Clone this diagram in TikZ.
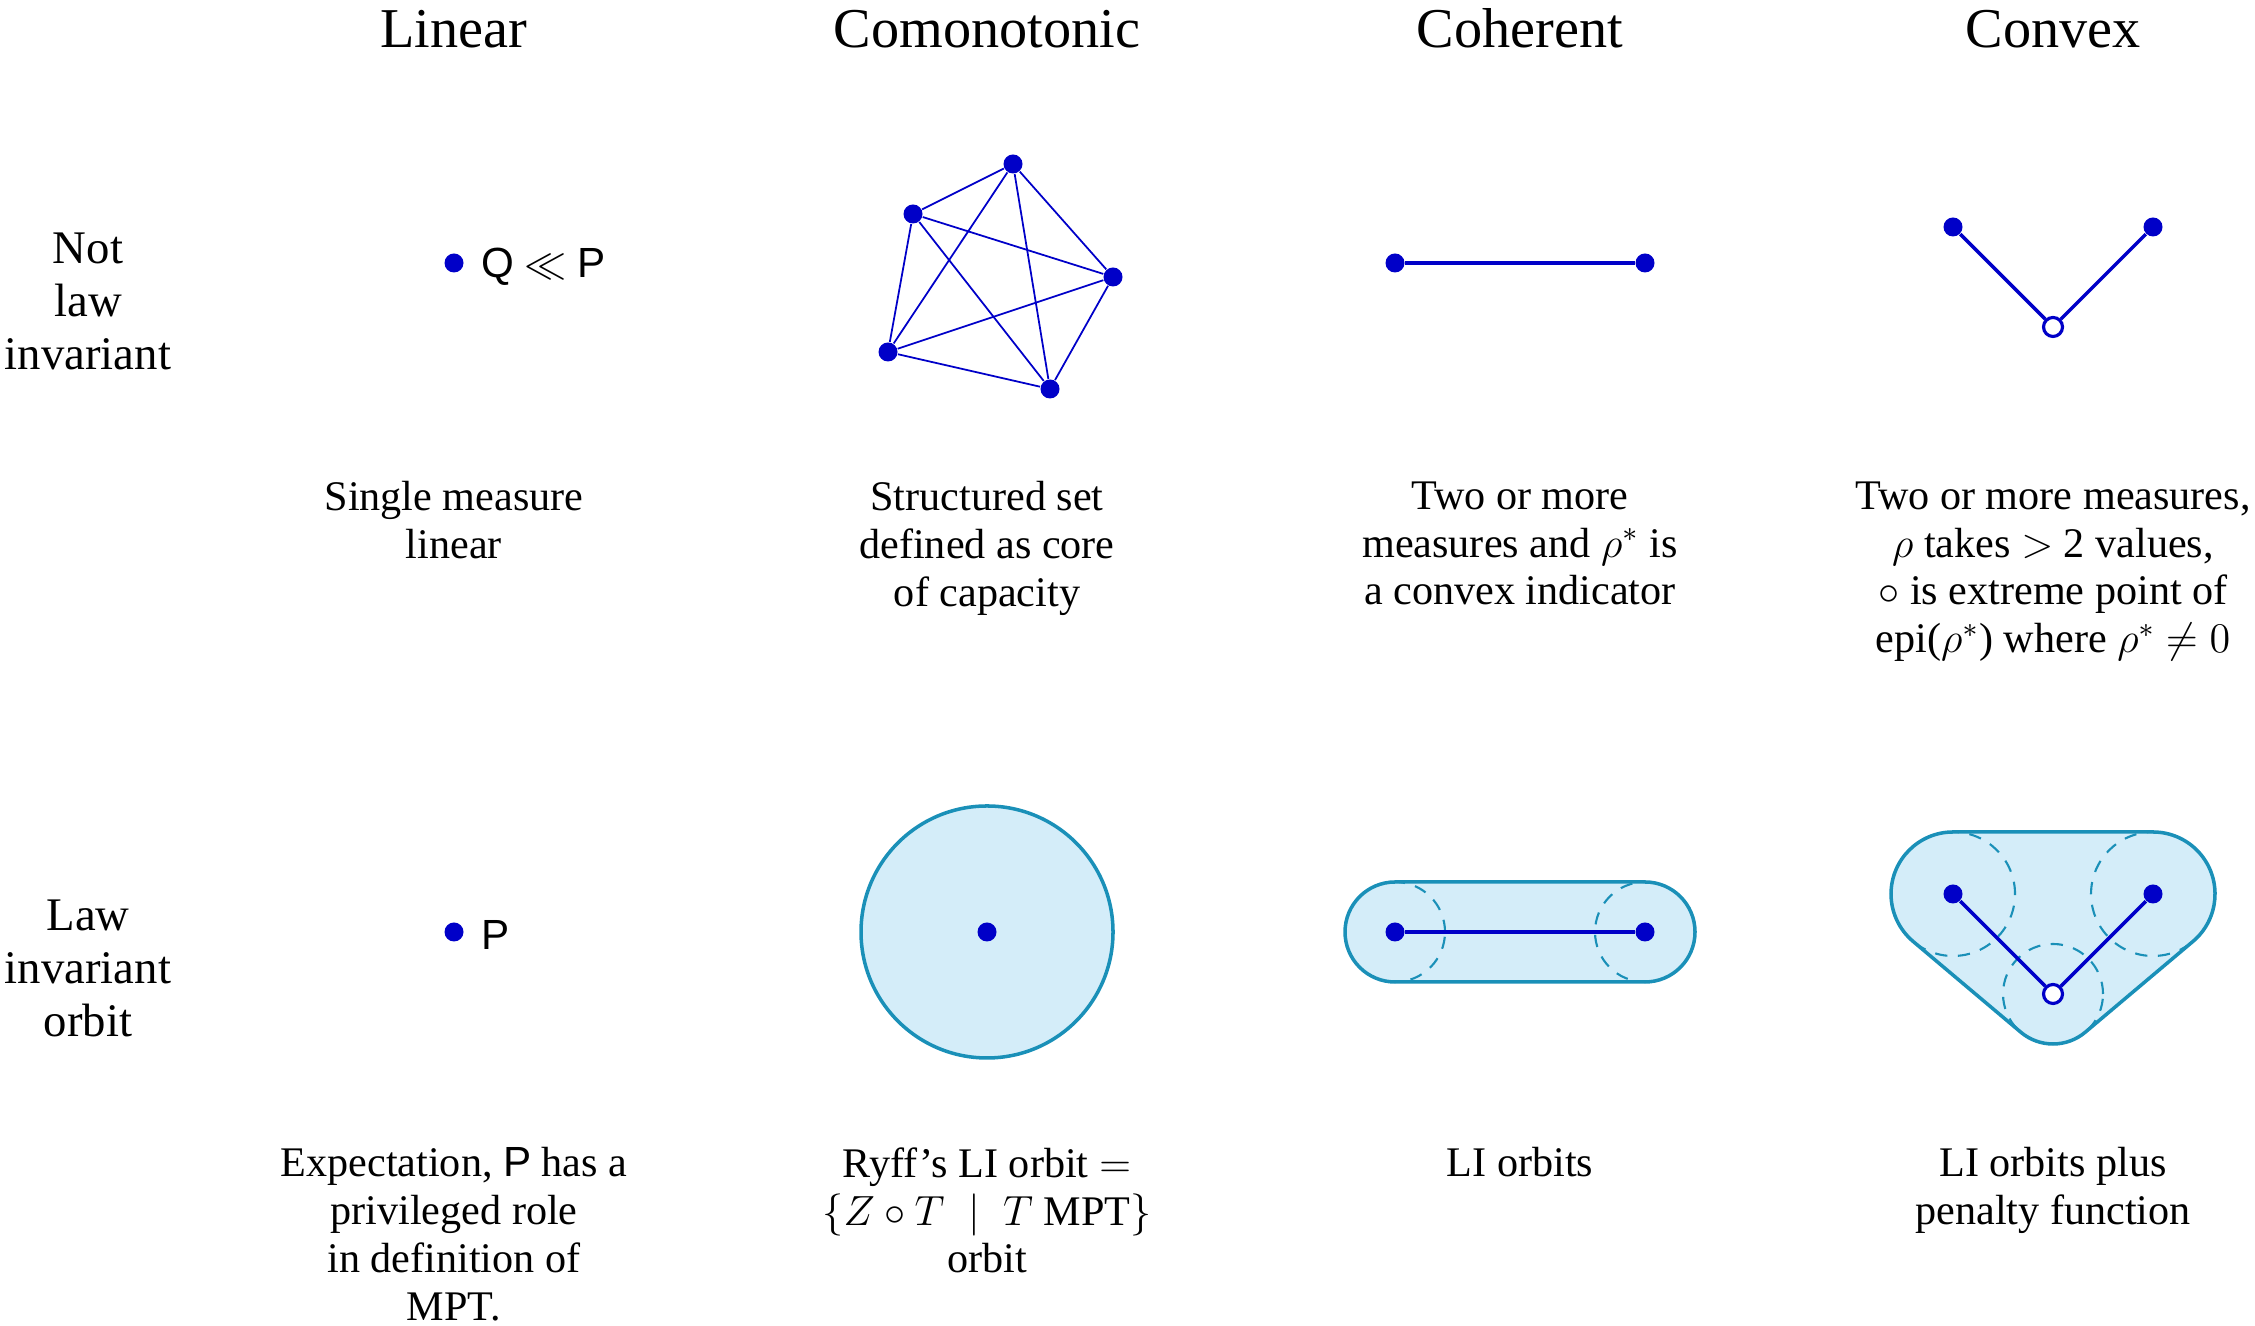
\documentclass[tikz,border=0pt]{standalone}
\usepackage{fontspec}
\setmainfont{Liberation Serif}
\setsansfont{Liberation Sans}
\usetikzlibrary{calc,positioning}
\definecolor{ptblue}{HTML}{0000C8}
\definecolor{orbitfill}{HTML}{D4EDF9}
\definecolor{orbitline}{HTML}{1A90B8}

\begin{document}
\begin{tikzpicture}[
    measure/.style={circle, fill=ptblue, inner sep=0pt, minimum size=0.19cm},
    extpt/.style={circle, draw=ptblue, fill=white, line width=0.9pt, inner sep=0pt, minimum size=0.19cm},
    link/.style={draw=ptblue, line width=#1},
    link/.default=1pt,
    orbit/.style={draw=orbitline, fill=orbitfill, line width=1pt},
    ball/.style={draw=orbitline, dash pattern=on 3.5pt off 3pt, line width=0.6pt},
    coltitle/.style={anchor=base, font=\fontsize{16}{19}\selectfont},
    rowlab/.style={align=center, font=\fontsize{13.3}{15}\selectfont},
    desc/.style={anchor=north, align=center, inner sep=0pt, font=\fontsize{12}{13.6}\selectfont},
    every node/.style={font=\fontsize{12}{14}\selectfont}
]
    \useasboundingbox (0,0) rectangle (22.55,13.26);

    % Column titles
    \node[coltitle] (tLin) at (4.54, 12.785) {Linear};
    \node[coltitle] (tCom) at (9.87, 12.785) {Comonotonic};
    \node[coltitle] (tCoh) at (15.20, 12.785) {Coherent};
    \node[coltitle] (tCvx) at (20.53, 12.785) {Convex};

    % Row labels
    \node[rowlab] (rNot) at (0.88, 10.245) {Not\\law\\invariant};
    \node[rowlab] (rLaw) at (0.88, 3.575) {Law\\invariant\\orbit};

    % Row 1: linear
    \node[measure] (lin1) at (4.54, 10.63) {};
    \node[right=0.05cm of lin1, yshift=-0.04cm] (linQ) {\textsf{Q} $\ll$ \textsf{P}};

    % Row 1: comonotonic, core of capacity
    \node[measure] (com1) at (10.13, 11.62) {};
    \node[measure] (com2) at (9.13, 11.12) {};
    \node[measure] (com3) at (8.88, 9.74) {};
    \node[measure] (com4) at (10.50, 9.37) {};
    \node[measure] (com5) at (11.13, 10.49) {};
    \foreach \i in {1,...,4} {
        \pgfmathtruncatemacro{\k}{\i+1}
        \foreach \j in {\k,...,5}
            \draw[link=0.5pt] (com\i) -- (com\j);
    }

    % Row 1: coherent
    \node[measure] (coh1L) at (13.95, 10.63) {};
    \node[measure] (coh1R) at (16.45, 10.63) {};
    \draw[link] (coh1L) -- (coh1R);

    % Row 1: convex
    \node[measure] (cvx1L) at (19.53, 10.99) {};
    \node[measure] (cvx1R) at (21.53, 10.99) {};
    \node[extpt] (cvx1B) at (20.53, 9.99) {};
    \draw[link] (cvx1L) -- (cvx1B) -- (cvx1R);

    % Row 1 descriptions
    \node[desc] (linT1) at (4.54, 8.45) {Single measure\\linear};
    \node[desc] (comT1) at (9.87, 8.45) {Structured set\\defined as core\\of capacity};
    \node[desc] (cohT1) at (15.20, 8.45) {Two or more\\measures and $\rho^*$ is\\a convex indicator};
    \node[desc] (cvxT1) at (20.53, 8.45) {Two or more measures,\\$\rho$ takes $>$~2 values,\\$\circ$ is extreme point of\\epi($\rho^*$) where $\rho^*$ $\neq 0$};

    % Row 2: linear
    \node[measure] (lin2) at (4.54, 3.94) {};
    \node[right=0.05cm of lin2, yshift=-0.03cm] (linP) {\textsf{P}};

    % Row 2: comonotonic orbit
    \node[circle, orbit, inner sep=0pt, minimum size=2.52cm] (ryff) at (9.87, 3.94) {};
    \node[measure] (com2C) at (9.87, 3.94) {};

    % Row 2: coherent, LI orbits
    \coordinate (coh2Lc) at (13.95, 3.94);
    \coordinate (coh2Rc) at (16.45, 3.94);
    \path[orbit] (coh2Lc) ++(0,0.5) arc[start angle=90, end angle=270, radius=0.5]
        -- ($(coh2Rc)+(0,-0.5)$) arc[start angle=-90, end angle=90, radius=0.5] -- cycle;
    \draw[ball] (coh2Lc) circle[radius=0.5] (coh2Rc) circle[radius=0.5];
    \node[measure] (coh2L) at (coh2Lc) {};
    \node[measure] (coh2R) at (coh2Rc) {};
    \draw[link] (coh2L) -- (coh2R);

    % Row 2: convex, LI orbits plus penalty
    \coordinate (cvx2Lc) at (19.53, 4.32);
    \coordinate (cvx2Rc) at (21.53, 4.32);
    \coordinate (cvx2Bc) at (20.53, 3.32);
    \path[orbit] (cvx2Lc) ++(0,0.62) arc[start angle=90, end angle=229.87, radius=0.62]
        -- ($(cvx2Bc)+(229.87:0.5)$) arc[start angle=229.87, end angle=310.13, radius=0.5]
        -- ($(cvx2Rc)+(310.13:0.62)$) arc[start angle=-49.87, end angle=90, radius=0.62] -- cycle;
    \draw[ball] (cvx2Lc) circle[radius=0.62] (cvx2Rc) circle[radius=0.62] (cvx2Bc) circle[radius=0.5];
    \node[measure] (cvx2L) at (cvx2Lc) {};
    \node[measure] (cvx2R) at (cvx2Rc) {};
    \node[extpt] (cvx2B) at (cvx2Bc) {};
    \draw[link] (cvx2L) -- (cvx2B) -- (cvx2R);

    % Row 2 descriptions
    \node[desc] (linT2) at (4.54, 1.79) {Expectation, \textsf{P} has a\\privileged role\\in definition of\\MPT.};
    \node[desc] (comT2) at (9.87, 1.79) {Ryff's LI orbit $=$\\$\{Z\circ T\;\mid\;T$ MPT$\}$\\orbit};
    \node[desc] (cohT2) at (15.20, 1.79) {LI orbits};
    \node[desc] (cvxT2) at (20.53, 1.79) {LI orbits plus\\penalty function};
\end{tikzpicture}
\end{document}
